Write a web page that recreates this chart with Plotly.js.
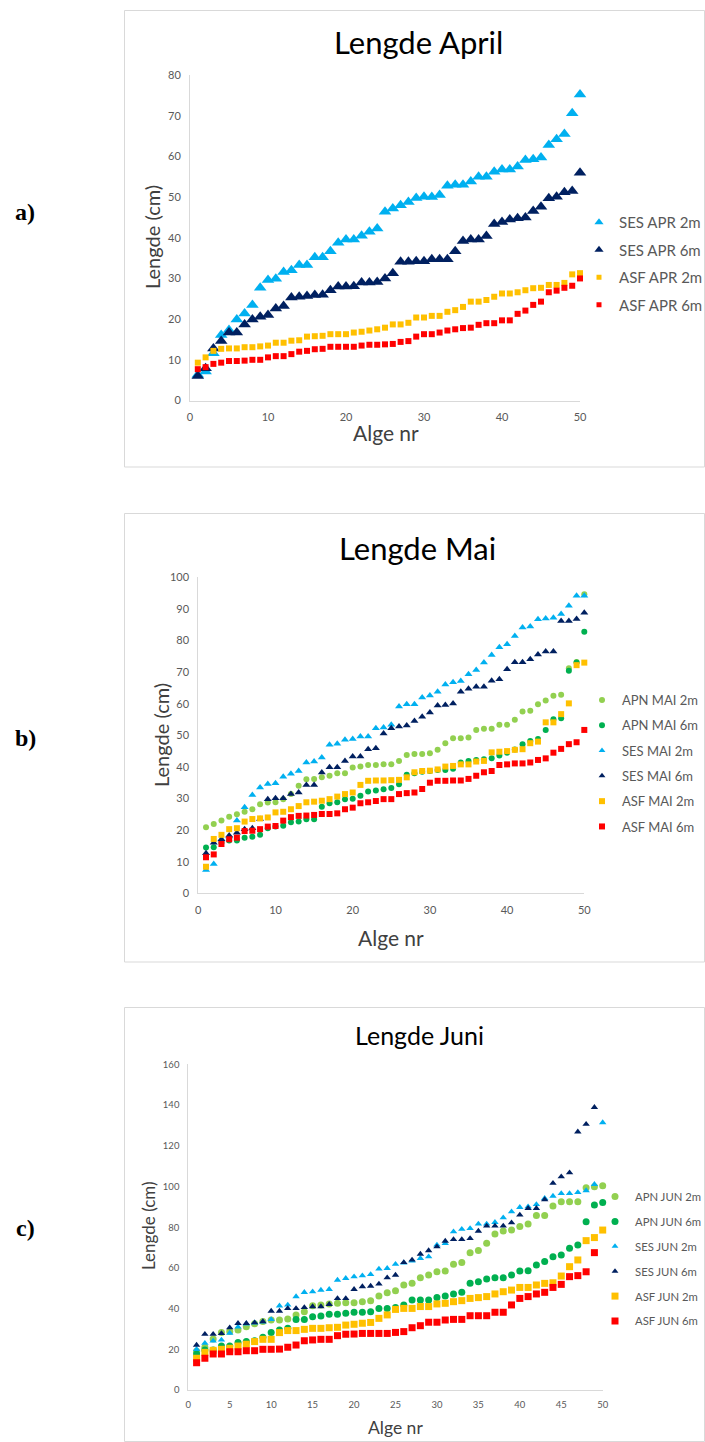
<!DOCTYPE html>
<html><head><meta charset="utf-8">
<script src="https://cdn.plot.ly/plotly-3.0.1.min.js"></script>
<style>html,body{margin:0;padding:0;background:#fff;}#chart{width:705px;height:1442px;}</style>
</head><body><div id="chart"></div>
<script>
const W = 705, H = 1442;
const algeNr = [1,2,3,4,5,6,7,8,9,10,11,12,13,14,15,16,17,18,19,20,21,22,23,24,25,26,27,28,29,30,31,32,33,34,35,36,37,38,39,40,41,42,43,44,45,46,47,48,49,50];

// a) April
const aSES2 = [6.3,7.1,11.6,16.1,17.3,19.9,21.4,23.5,27.7,29.6,29.9,31.6,32,33.3,33.3,35.2,35.2,36.7,38.8,39.6,39.6,40.5,41.5,42.3,46.4,47.2,48,48.8,49.8,50.1,50,50.5,52.8,53,53,53.8,55,55,56.2,56.8,56.8,57.5,59.1,59.3,59.7,62.8,64.2,65.5,70.6,75.2];
const aSES6 = [6,7.9,12.8,14.6,16.7,16.7,18.7,19.9,20.6,21,22.6,23.2,25.3,25.5,25.7,25.9,26,27.1,28,28,28.1,29,29,29.1,30,31.3,34.1,34.1,34.2,34.2,34.7,34.7,34.7,36.7,39.2,39.6,39.6,40.4,43.4,43.9,44.5,44.8,45,46.6,47.6,49.7,50.1,51.2,51.5,56];
const aASF2 = [9.3,10.6,12.2,12.7,12.8,12.8,13.1,13.1,13.3,13.5,14.2,14.2,14.7,14.8,15.7,15.8,15.9,16.3,16.3,16.3,16.7,16.9,17.2,17.5,17.9,18.7,18.7,19.1,20.4,20.4,20.8,20.8,21.8,22.2,23,24.3,24.3,24.7,25.5,26.3,26.3,26.6,27.1,27.6,27.7,28.4,28.4,28.9,31,31.3];
const aASF6 = [7.7,8.2,9,9.3,9.7,9.7,9.8,10,10,10.6,10.9,10.9,11.4,12,12.2,12.6,12.7,13.2,13.2,13.2,13.2,13.5,13.7,13.7,13.8,13.9,14.4,14.6,15.7,16.3,16.3,16.7,17.2,17.5,17.8,17.9,18.6,19,19,19.7,19.7,21.3,22.1,23.5,24.3,26.6,27,27.7,28.2,30];

// b) Mai
const bAPN2 = [20.9,21.9,23,24.2,25,25.8,26.6,28.2,28.7,28.8,29.8,31.4,34,36.1,36.2,36.7,37.2,38,38,39.8,40.1,40.6,40.6,40.8,40.8,41.9,43.8,44.1,44.1,44.3,45.4,47.5,49.1,49.1,49.3,51.7,52.1,52.1,53.3,53.3,54.9,57.5,57.8,59.8,61,62.5,62.8,71.2,73.2,94.6];
const bAPN6 = [14.5,14.6,16,16.7,16.7,17.6,17.9,18.5,20.6,21.1,21.4,22.5,22.7,23.4,23.4,27.4,28.5,28.8,29.8,29.9,30.9,32.2,32.5,32.9,33.3,34.5,37.5,38,38.5,38.7,39,39,39.4,41.4,41.9,42.2,42.4,42.7,43.6,44.5,45.5,47.2,48.2,48.8,51.7,55.1,55.4,70.4,73,82.8];
const bSES2 = [7.4,9.3,17,18,23,27.2,31.1,33.5,34.6,34.8,36.9,37.8,38.7,41.4,41.7,43,47,47.3,48.6,48.8,49.6,49.6,52.2,52.5,53.3,59.1,59.8,59.8,62,62.6,63.8,66.1,66.8,67.2,69.3,70.7,73,75.4,77.9,78.8,81.4,84.1,84.4,86.7,87,87.2,88.4,91,94.2,94.2];
const bSES6 = [12.7,16,17.1,18.3,19.2,20.3,20.6,23.5,29.8,30.1,30.1,31.4,31.9,34.3,34.3,38.2,39.9,39.9,41.9,43.3,43.3,45.6,45.9,50.6,52.2,52.8,53.1,54.5,55.9,57.2,59.4,59.6,60.1,63.8,64.7,65.4,65.4,67.3,67.7,70.9,73.1,73.1,74.1,75.6,76.5,76.5,86.2,86.2,86.8,88.8];
const bASF2 = [8.4,17.2,18.5,20.3,20.6,22.7,23.5,23.7,24,25.6,25.8,26.6,27.6,28.8,29,29.3,29.8,30.6,31.4,31.9,34.3,35.6,35.7,35.7,35.8,35.9,36.7,38.3,38.7,38.8,39.2,40.1,40.3,40.8,40.8,41.7,41.9,44.6,44.8,45,45.4,45.6,47.5,48,54.1,54.1,56.7,60.1,72.2,73];
const bASF6 = [11.4,12.3,15.6,17.1,17.6,19.7,19.8,20.3,21.1,21.3,23,24.1,24.5,24.6,24.8,25.1,25.1,25.3,26.6,27.1,28.5,28.8,29.2,29.8,29.8,31.4,31.7,31.9,33,35,35.6,35.6,35.7,35.7,36.2,37.2,38.3,38.7,40.6,40.8,41.1,41.1,41.4,42.2,42.7,44.5,45.7,47.2,47.8,51.7];

// c) Juni
const cAPN2 = [19,21,25,28.2,28.7,29.5,31.1,32.5,33.6,34.4,34.4,34.9,36.9,38.5,41.4,41.8,42.3,42.6,42.9,42.9,43.4,43.9,46.2,47.8,48.8,51.6,52.4,55.2,56.5,58.1,58.5,61.8,62.6,67.5,68.5,72.1,76.7,78.1,78.6,80.3,81.6,85.7,85.7,90.4,92.5,92.5,92.5,99.4,99.9,100.4];
const cAPN6 = [17.7,19.7,19.7,21.6,21.6,23.3,23.8,24.2,25.9,28.2,29.5,30.3,34.7,34.7,36,36.4,37.2,37.2,37.7,38.2,38.2,38.5,40.1,40.1,40.6,41.8,44.2,44.2,44.2,45.4,46.2,47.2,48,52.4,53.2,54.5,55.2,55.2,56.5,58.5,58.6,61.4,63.1,65.5,66.3,69.6,71.3,82.7,90.9,92.1];
const cSES2 = [20,23,24.1,24.6,28,31,32.5,33,33.5,34.7,41.4,41.8,45.9,48,48.3,49.1,49.5,54,54.9,55.7,56.2,56.8,59.5,59.8,61.8,62.5,63.5,64.7,65.5,71.3,72,77.8,79,79.4,81.6,81.6,82.4,84.7,87.6,89.8,90.1,91.2,94.2,95.3,96.6,96.6,97.1,98,101.1,131.4];
const cSES6 = [22.1,27.4,27.4,27.8,30.6,32.8,32.8,33.1,33.6,38.8,38.8,40.1,40.1,40.6,41,41,42.1,45,45,49.5,50.8,51.1,52.1,55.2,56.5,62.7,63.9,66.8,68.5,70.4,73.2,74,74,74.5,78.1,80.6,80.6,80.6,82.2,86,89.3,89.3,93.6,101.6,104.8,106.8,126.9,130.6,138.9];
const cASF2 = [15.6,18.5,19.5,20,20.5,21.6,22.5,23.8,24.9,24.9,28.2,29.2,29.2,29.8,30.3,30.3,30.6,30.8,31.9,32.3,32.8,33.2,35.2,36.9,39.6,40.1,40.1,41,41,42.3,42.6,43.4,43.9,45,45.4,45.9,47.2,48.3,49.1,50.4,50.4,51.6,52.4,52.7,56,60.6,63.9,73.4,74.9,78.6];
const cASF6 = [13.4,15.6,17.7,17.7,18.8,18.8,19.3,19.3,20,20,20.1,21,22.1,24.2,24.6,24.9,24.9,26.7,27.4,27.5,27.8,27.8,27.8,27.8,28.3,28.7,30.6,31.6,33.3,33.3,34.4,34.7,34.7,36.5,36.5,36.5,38.2,38.2,41.8,45,45.9,47.2,48,50.4,51.9,55.7,56.2,58.1,67.5];

const C = {lb:'#00B0F0', nv:'#002060', ye:'#FFC000', rd:'#FF0000', lg:'#92D050', dg:'#00B050'};
const FONT = 'Lato, "Open Sans", sans-serif';

const px = v => v / W;
const py = v => 1 - v / H;

const traces = [];
function add(vals, name, sym, color, size, legSize, ax, leg) {
  traces.push({type:'scatter', mode:'markers', x: algeNr.slice(0, vals.length), y: vals,
    name: name, showlegend: false, xaxis: 'x'+ax, yaxis: 'y'+ax, cliponaxis: false,
    marker: {symbol: sym, color: color, size: size, line: {width: 0}}, hoverinfo: 'x+y+name'});
  traces.push({type:'scatter', mode:'markers', x: [null], y: [null], name: name,
    showlegend: true, legend: leg, legendgroup: name, xaxis: 'x'+ax, yaxis: 'y'+ax,
    marker: {symbol: sym, color: color, size: legSize, line: {width: 0}}});
}
// panel a
add(aSES2, 'SES APR 2m', 'triangle-up', C.lb, 11, 8, '', 'legend');
add(aSES6, 'SES APR 6m', 'triangle-up', C.nv, 11, 8, '', 'legend');
add(aASF2, 'ASF APR 2m', 'square', C.ye, 6, 5, '', 'legend');
add(aASF6, 'ASF APR 6m', 'square', C.rd, 6, 5, '', 'legend');
// panel b
add(bAPN2, 'APN MAI 2m', 'circle', C.lg, 6, 6, '2', 'legend2');
add(bAPN6, 'APN MAI 6m', 'circle', C.dg, 6, 6, '2', 'legend2');
add(bSES2, 'SES MAI 2m', 'triangle-up', C.lb, 7, 6, '2', 'legend2');
add(bSES6, 'SES MAI 6m', 'triangle-up', C.nv, 7, 6, '2', 'legend2');
add(bASF2, 'ASF MAI 2m', 'square', C.ye, 6, 6, '2', 'legend2');
add(bASF6, 'ASF MAI 6m', 'square', C.rd, 6, 6, '2', 'legend2');
// panel c
add(cAPN2, 'APN JUN 2m', 'circle', C.lg, 7, 7, '3', 'legend3');
add(cAPN6, 'APN JUN 6m', 'circle', C.dg, 7, 7, '3', 'legend3');
add(cSES2, 'SES JUN 2m', 'triangle-up', C.lb, 6.5, 6, '3', 'legend3');
add(cSES6, 'SES JUN 6m', 'triangle-up', C.nv, 6.5, 6, '3', 'legend3');
add(cASF2, 'ASF JUN 2m', 'square', C.ye, 7, 7, '3', 'legend3');
add(cASF6, 'ASF JUN 6m', 'square', C.rd, 7, 7, '3', 'legend3');

function axis(dom, range, dtick, anchor, fs) {
  return {domain: dom, range: range, dtick: dtick, tick0: 0, anchor: anchor,
    showline: true, linecolor: '#d9d9d9', linewidth: 1, showgrid: false, zeroline: false,
    ticks: '', ticklabelstandoff: 6, fixedrange: true, automargin: false,
    tickfont: {family: FONT, size: fs, color: '#595959'}};
}
const layout = {
  width: W, height: H, margin: {l:0, r:0, t:0, b:0, autoexpand: false}, paper_bgcolor: '#fff', plot_bgcolor: '#fff',
  showlegend: true,
  xaxis:  axis([px(190), px(580)], [0, 50], 10, 'y', 11),
  yaxis:  axis([py(400.5), py(75)], [0, 80], 10, 'x', 11),
  xaxis2: axis([px(198.3), px(584.3)], [0, 50], 10, 'y2', 11),
  yaxis2: axis([py(893.3), py(577.3)], [0, 100], 10, 'x2', 11),
  xaxis3: axis([px(188.3), px(602.7)], [0, 50], 5, 'y3', 9.5),
  yaxis3: axis([py(1390), py(1064.4)], [0, 160], 20, 'x3', 9.5),
  legend:  {x: px(579), y: py(206), xanchor: 'left', yanchor: 'top', tracegroupgap: 5,
            font: {family: FONT, size: 15, color: '#595959'}, bgcolor: 'rgba(0,0,0,0)', itemclick: false},
  legend2: {x: px(582), y: py(685), xanchor: 'left', yanchor: 'top', tracegroupgap: 5.4,
            font: {family: FONT, size: 13, color: '#595959'}, bgcolor: 'rgba(0,0,0,0)', itemclick: false},
  legend3: {x: px(595), y: py(1182), xanchor: 'left', yanchor: 'top', tracegroupgap: 5.9,
            font: {family: FONT, size: 11.3, color: '#595959'}, bgcolor: 'rgba(0,0,0,0)', itemclick: false},
  shapes: [
    {type:'rect', xref:'paper', yref:'paper', x0: px(124.5), x1: px(704.5), y0: py(467), y1: py(10.5), line:{color:'#d9d9d9', width:1}},
    {type:'rect', xref:'paper', yref:'paper', x0: px(124.5), x1: px(704.5), y0: py(962), y1: py(513.5), line:{color:'#d9d9d9', width:1}},
    {type:'rect', xref:'paper', yref:'paper', x0: px(124.5), x1: px(704.5), y0: py(1441.5), y1: py(1007.5), line:{color:'#d9d9d9', width:1}}
  ],
  annotations: []
};
function ann(text, x, y, size, color, extra) {
  layout.annotations.push(Object.assign({text: text, xref:'paper', yref:'paper', x: px(x), y: py(y),
    showarrow: false, xanchor: 'center', yanchor: 'middle', font: {family: FONT, size: size, color: color}}, extra || {}));
}
ann('Lengde April', 418, 42, 31, '#000');
ann('Lengde Mai', 417, 548, 31, '#000');
ann('Lengde Juni', 419, 1035, 25, '#000');
ann('Lengde (cm)', 152, 237, 20, '#404040', {textangle: -90});
ann('Lengde (cm)', 161, 735, 20, '#404040', {textangle: -90});
ann('Lengde (cm)', 148, 1226, 17, '#404040', {textangle: -90});
ann('Alge nr', 386, 433, 21, '#404040');
ann('Alge nr', 391, 937, 21, '#404040');
ann('Alge nr', 395, 1427, 17.5, '#404040');
const SERIF = '"Liberation Serif", "DejaVu Serif", serif';
ann('<b>a)</b>', 25, 212, 24, '#000', {font:{family: SERIF, size: 24, color:'#000'}});
ann('<b>b)</b>', 25, 738, 24, '#000', {font:{family: SERIF, size: 24, color:'#000'}});
ann('<b>c)</b>', 25, 1228, 24, '#000', {font:{family: SERIF, size: 24, color:'#000'}});

Plotly.newPlot('chart', traces, layout, {displayModeBar: false, staticPlot: true});
</script>
</body></html>
